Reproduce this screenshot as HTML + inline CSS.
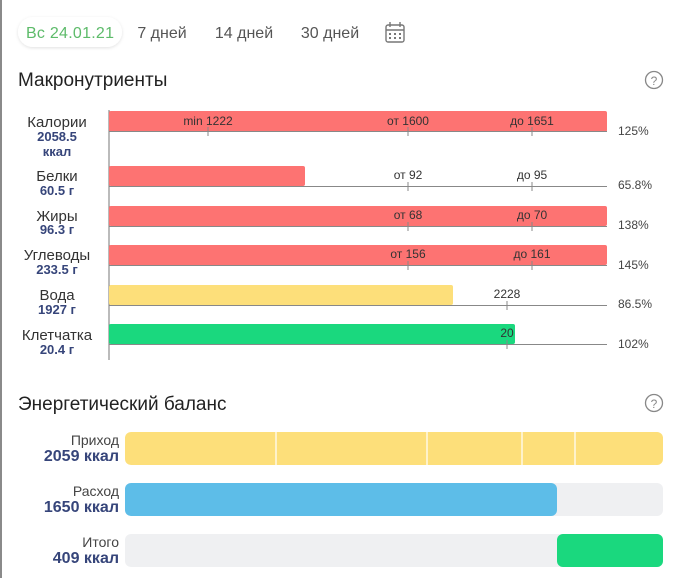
<!DOCTYPE html>
<html><head><meta charset="utf-8"><style>
body{margin:0;width:680px;height:578px;background:#fff;overflow:hidden;font-family:"Liberation Sans","DejaVu Sans",sans-serif;}
</style></head><body>
<svg width="680" height="578" xmlns="http://www.w3.org/2000/svg" font-family="Liberation Sans, DejaVu Sans, sans-serif">
<defs><filter id="sh" x="-20%" y="-40%" width="140%" height="180%"><feDropShadow dx="0" dy="1" stdDeviation="1.5" flood-color="#000" flood-opacity="0.12"/></filter></defs>
<rect x="0" y="0" width="2" height="578" fill="#8a8a8a"/>
<!-- header -->
<rect x="18" y="17" width="104" height="30" rx="15" fill="#fff" filter="url(#sh)"/>
<text x="70" y="38" font-size="16" fill="#5dbb6a" text-anchor="middle" textLength="88">Вс 24.01.21</text>
<text x="162" y="38" font-size="16" fill="#555" text-anchor="middle">7 дней</text>
<text x="244" y="38" font-size="16" fill="#555" text-anchor="middle">14 дней</text>
<text x="330" y="38" font-size="16" fill="#555" text-anchor="middle">30 дней</text>
<g stroke="#777" fill="none" stroke-width="1.4"><rect x="386" y="25" width="18" height="17" rx="2"/><line x1="386" y1="30" x2="404" y2="30"/><line x1="390" y1="22" x2="390" y2="27"/><line x1="400" y1="22" x2="400" y2="27"/></g>
<g fill="#777"><rect x="389" y="33" width="2" height="2"/><rect x="394" y="33" width="2" height="2"/><rect x="399" y="33" width="2" height="2"/><rect x="389" y="37" width="2" height="2"/><rect x="394" y="37" width="2" height="2"/><rect x="399" y="37" width="2" height="2"/></g>
<text x="18" y="86" font-size="19" fill="#222">Макронутриенты</text>
<circle cx="654" cy="80" r="8.5" fill="none" stroke="#888" stroke-width="1.3"/><text x="654" y="85" font-size="12" fill="#888" text-anchor="middle">?</text>
<!-- macro -->
<line x1="109" y1="110" x2="109" y2="360" stroke="#777"/>
<g fill="#fd7372">
<rect x="109" y="111" width="498" height="21" rx="2"/>
<rect x="109" y="166" width="196" height="20" rx="2"/>
<rect x="109" y="206" width="498" height="20" rx="2"/>
<rect x="109" y="245" width="498" height="20" rx="2"/>
</g>
<rect x="109" y="285" width="344" height="20" rx="2" fill="#fddf7a"/>
<rect x="109" y="324" width="406" height="20" rx="2" fill="#1ad87e"/>
<g stroke="#888">
<line x1="109" y1="131.5" x2="607" y2="131.5"/><line x1="109" y1="186.5" x2="607" y2="186.5"/><line x1="109" y1="226.5" x2="607" y2="226.5"/><line x1="109" y1="265.5" x2="607" y2="265.5"/><line x1="109" y1="305.5" x2="607" y2="305.5"/><line x1="109" y1="344.5" x2="607" y2="344.5"/>
<line x1="208" y1="127" x2="208" y2="136"/><line x1="408" y1="127" x2="408" y2="136"/><line x1="532" y1="127" x2="532" y2="136"/>
<line x1="408" y1="182" x2="408" y2="191"/><line x1="532" y1="182" x2="532" y2="191"/>
<line x1="408" y1="222" x2="408" y2="231"/><line x1="532" y1="222" x2="532" y2="231"/>
<line x1="408" y1="261" x2="408" y2="270"/><line x1="532" y1="261" x2="532" y2="270"/>
<line x1="507" y1="301" x2="507" y2="310"/><line x1="507" y1="340" x2="507" y2="349"/>
</g>
<g font-size="12" fill="#333" text-anchor="middle">
<text x="208" y="125">min 1222</text><text x="408" y="125">от 1600</text><text x="532" y="125">до 1651</text>
<text x="408" y="179">от 92</text><text x="532" y="179">до 95</text>
<text x="408" y="219">от 68</text><text x="532" y="219">до 70</text>
<text x="408" y="258">от 156</text><text x="532" y="258">до 161</text>
<text x="507" y="298">2228</text><text x="507" y="337">20</text>
</g>
<g font-size="12" fill="#444">
<text x="618" y="135">125%</text><text x="618" y="189">65.8%</text><text x="618" y="229">138%</text><text x="618" y="269">145%</text><text x="618" y="308">86.5%</text><text x="618" y="348">102%</text>
</g>
<g text-anchor="middle">
<g font-size="15" fill="#333">
<text x="57" y="127">Калории</text><text x="57" y="181">Белки</text><text x="57" y="221">Жиры</text><text x="57" y="260">Углеводы</text><text x="57" y="300">Вода</text><text x="57" y="340">Клетчатка</text>
</g>
<g font-size="13" font-weight="bold" fill="#36457a">
<text x="57" y="141">2058.5</text><text x="57" y="156">ккал</text><text x="57" y="195">60.5 г</text><text x="57" y="234">96.3 г</text><text x="57" y="274">233.5 г</text><text x="57" y="314">1927 г</text><text x="57" y="354">20.4 г</text>
</g>
</g>
<!-- energy -->
<text x="18" y="410" font-size="19" fill="#222">Энергетический баланс</text>
<circle cx="654" cy="403" r="8.5" fill="none" stroke="#888" stroke-width="1.3"/><text x="654" y="408" font-size="12" fill="#888" text-anchor="middle">?</text>
<rect x="125" y="432" width="538" height="33" rx="6" fill="#fddf7a"/>
<g stroke="#fff" stroke-width="1.2"><line x1="276" y1="432" x2="276" y2="465"/><line x1="427" y1="432" x2="427" y2="465"/><line x1="522" y1="432" x2="522" y2="465"/><line x1="575" y1="432" x2="575" y2="465"/></g>
<rect x="125" y="483" width="538" height="33" rx="6" fill="#eff0f2"/>
<rect x="125" y="483" width="432" height="33" rx="6" fill="#5dbde8"/>
<rect x="125" y="534" width="538" height="33" rx="6" fill="#eff0f2"/>
<rect x="557" y="534" width="106" height="33" rx="6" fill="#1ad87e"/>
<g text-anchor="end">
<g font-size="14" fill="#444"><text x="119" y="445">Приход</text><text x="119" y="496">Расход</text><text x="119" y="547">Итого</text></g>
<g font-size="16" fill="#36457a" font-weight="bold"><text x="119" y="461">2059 ккал</text><text x="119" y="512">1650 ккал</text><text x="119" y="563">409 ккал</text></g>
</g>
</svg>
</body></html>
